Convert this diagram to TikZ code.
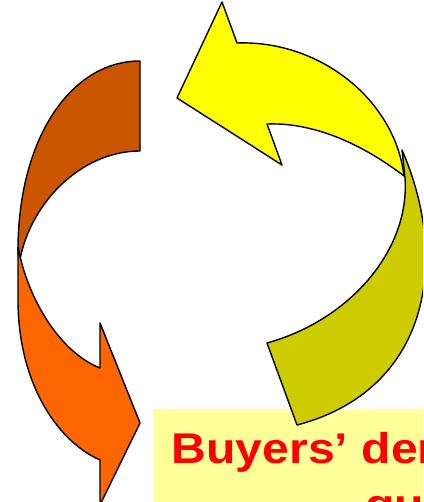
\documentclass[tikz,border=0pt]{standalone}
\usepackage{fontspec}
\setmainfont{Liberation Sans}
\newfontfamily\labelfont{Liberation Sans Bold}[FakeStretch=1.12]
\definecolor{darkor}{RGB}{204,85,0}
\definecolor{lightor}{RGB}{255,102,0}
\definecolor{yel}{RGB}{255,255,0}
\definecolor{olive2}{RGB}{204,204,0}
\definecolor{boxy}{RGB}{255,255,153}
\tikzset{arrowpart/.style={draw=black,line width=1.4pt,line join=round},
  redlabel/.style={anchor=base west,inner sep=0pt,text=red,font=\labelfont\fontsize{43}{56}\selectfont}}
\begin{document}
\begin{tikzpicture}[x=1pt,y=-1pt]
\useasboundingbox (0,0) rectangle (423,502);
\clip (0,0) rectangle (423,502);
% text box
\fill[boxy] (153,409) rectangle (440,520);
% orange arrow: back part
\path[arrowpart,fill=darkor] (140,61) -- (140,151)
  .. controls (80,151) and (28,205) .. (19,265)
  -- (18,250) .. controls (18,140) and (70,61) .. (140,61) -- cycle;
% orange arrow: front part
\path[arrowpart,fill=lightor] (18,247) -- (18,300)
  .. controls (18,380) and (55,440) .. (100,460)
  -- (100,505) -- (140,423) -- (100,323) -- (100,368)
  .. controls (60,352) and (28,300) .. (18,247) -- cycle;
% yellow arrow: back part
\path[arrowpart,fill=olive2] (402,150)
  .. controls (450,260) and (430,390) .. (297,425)
  -- (267,343) .. controls (350,320) and (410,250) .. (405,178) -- cycle;
% yellow arrow: front part
\path[arrowpart,fill=yel] (404,176)
  .. controls (370,150) and (320,122) .. (267,124)
  -- (282,165) -- (177,98) -- (222,2) -- (237,43)
  .. controls (320,40) and (395,100) .. (404,176) -- cycle;
% text
\node[redlabel] (t1) at (171.5,463) {Buyers’ demand};
\node[redlabel] (t2) at (365,519) {quantity};
\end{tikzpicture}
\end{document}
